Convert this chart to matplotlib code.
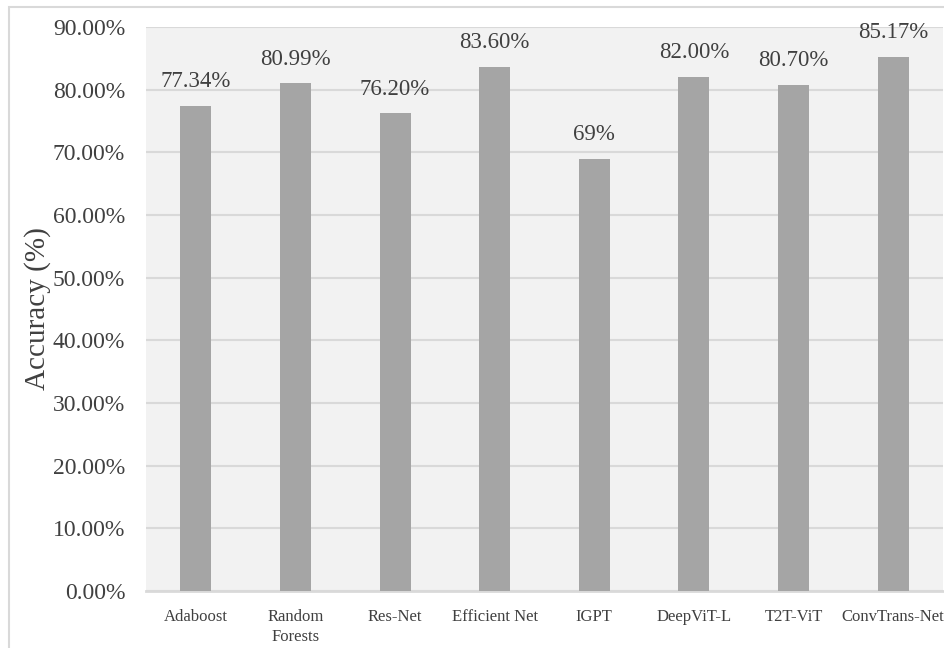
import matplotlib

matplotlib.use("Agg")
import matplotlib.pyplot as plt
from matplotlib.patches import Rectangle

modelos = ["Adaboost", "Random\nForests", "Res-Net", "Efficient Net", "IGPT",
           "DeepViT-L", "T2T-ViT", "ConvTrans-Net"]
acuracia = [77.34, 80.99, 76.20, 83.60, 69.0, 82.00, 80.70, 85.17]
rotulos = ["77.34%", "80.99%", "76.20%", "83.60%", "69%", "82.00%", "80.70%", "85.17%"]
ticks_y = [0, 10, 20, 30, 40, 50, 60, 70, 80, 90]

COR_BARRA = "#a5a5a5"
COR_FUNDO = "#f2f2f2"
COR_GRADE = "#d9d9d9"
COR_TEXTO = "#404040"

plt.rcParams.update({
    "font.family": ["Liberation Serif", "DejaVu Serif"],
})

fig = plt.figure(figsize=(9.44, 6.48), dpi=100)
W, H = 944, 648

# moldura externa do grafico
fig.patches.append(Rectangle((9 / W, -0.05), 1.1, (H - 7) / H + 0.05,
                             transform=fig.transFigure, fill=False,
                             edgecolor=COR_GRADE, linewidth=1.5))

ax = fig.add_axes([146 / W, 57 / H, 797 / W, 564 / H])
ax.set_facecolor(COR_FUNDO)
for lado in ["top", "right", "left"]:
    ax.spines[lado].set_visible(False)
ax.spines["bottom"].set_color(COR_GRADE)
ax.spines["bottom"].set_linewidth(2)

x = range(len(modelos))
barras = ax.bar(x, acuracia, width=0.31, color=COR_BARRA, zorder=3)
for b, t in zip(barras, rotulos):
    ax.annotate(t, xy=(b.get_x() + b.get_width() / 2, b.get_height()),
                xytext=(0, 10), textcoords="offset points",
                ha="center", va="bottom", fontsize=16.5, color=COR_TEXTO)

ax.set_xlim(-0.5, len(modelos) - 0.5)
ax.set_ylim(0, 90)
ax.set_yticks(ticks_y)
ax.set_yticklabels([f"{v:.2f}%" for v in ticks_y], fontsize=17, color=COR_TEXTO)
ax.set_xticks(list(x))
ax.set_xticklabels(modelos, fontsize=12, color=COR_TEXTO, linespacing=1.35)
ax.tick_params(axis="both", length=0)
ax.tick_params(axis="x", pad=13)
ax.tick_params(axis="y", pad=15)
ax.yaxis.grid(True, color=COR_GRADE, linewidth=1.5, zorder=0)
ax.set_axisbelow(True)
ax.set_ylabel("Accuracy (%)", fontsize=21, color=COR_TEXTO, labelpad=1)

fig.savefig("out.png", dpi=100)
plt.close(fig)
